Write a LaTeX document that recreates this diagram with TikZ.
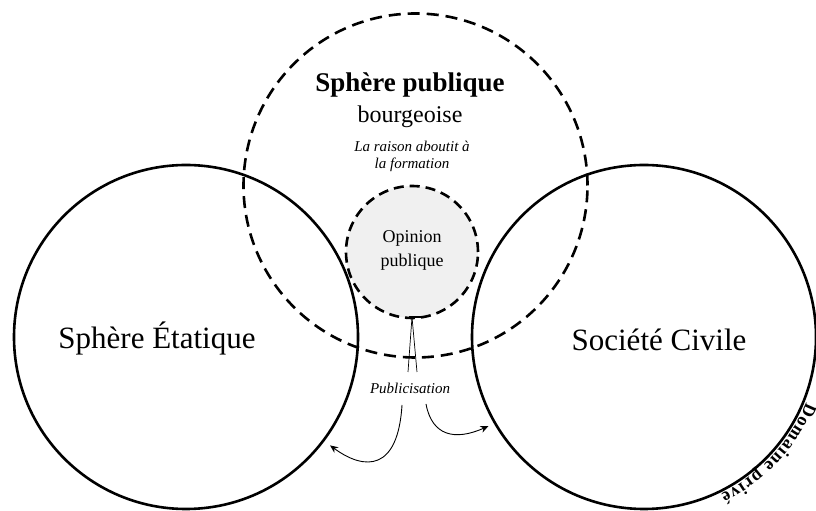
\documentclass[tikz,border=0pt]{standalone}
\usepackage{fontspec}
\setmainfont{Liberation Serif}
\usetikzlibrary{decorations.text,arrows.meta}
\newcommand\dpfont{\bfseries\fontsize{18}{20}\selectfont}
\begin{document}
\begin{tikzpicture}[x=1pt,y=1pt,
  solidring/.style={circle,draw=black,line width=2.6pt,inner sep=0pt,minimum size=344pt},
  dashring/.style={circle,draw=black,line width=2.6pt,dash pattern=on 12pt off 7pt,inner sep=0pt},
  thinarrow/.style={line width=0.9pt,-{Stealth[length=8pt,width=7pt]}},
  lbl/.style={inner sep=0pt,align=center}]
\useasboundingbox (0,0) rectangle (816,511);
% opinion publique
\node[dashring,minimum size=132pt,fill=black!6,dash pattern=on 10pt off 6pt] (opinion) at (412,259) {};
% solid circles
\node[solidring] (etat) at (186,174) {};
\node[solidring] (civile) at (644,174) {};
% bourgeois public sphere
\node[dashring,minimum size=344pt] (publique) at (415.5,325.5) {};
% texts
\node[lbl,font=\fontsize{27}{30}\selectfont\bfseries] (t1) at (410,426) {Sphère publique};
\node[lbl,font=\fontsize{24}{28}\selectfont] (t2) at (410,394) {bourgeoise};
\node[lbl,font=\fontsize{15}{17}\selectfont\itshape] (t3) at (412,355) {La raison aboutit à\\la formation};
\node[lbl,font=\fontsize{18}{24}\selectfont] (t4) at (412,261) {Opinion\\publique};
\node[lbl,font=\fontsize{31}{34}\selectfont] (t5) at (157,173) {Sphère Étatique};
\node[lbl,font=\fontsize{31}{34}\selectfont] (t6) at (659,171) {Société Civile};
\node[lbl,font=\fontsize{15}{17}\selectfont\itshape] (pub) at (410,123) {Publicisation};
% connector from opinion
\coordinate (ob) at (412,194);
\coordinate (l1) at (408,139);
\coordinate (l2) at (417,139);
\draw[line width=1.6pt] ([xshift=-3pt]ob) -- ([xshift=13pt]ob);
\draw[line width=0.7pt] (ob) -- (l1);
\draw[line width=0.7pt] (ob) -- (l2);
% arrows
\coordinate (sa) at (402,106);
\coordinate (sb) at (426,107);
\draw[thinarrow,shorten >=7pt] (sa) .. controls (398,40) and (365,40) .. (etat.-37);
\draw[thinarrow,shorten >=6pt] (sb) .. controls (432,75) and (455,70) .. (civile.210);
% Domaine prive
\path[decorate,decoration={text along path,text align=fit to path,
  text={|\dpfont|Domaine privé}}]
  (644,174) ++(-22:175) arc[start angle=-22,end angle=-64,radius=175];
\end{tikzpicture}
\end{document}
